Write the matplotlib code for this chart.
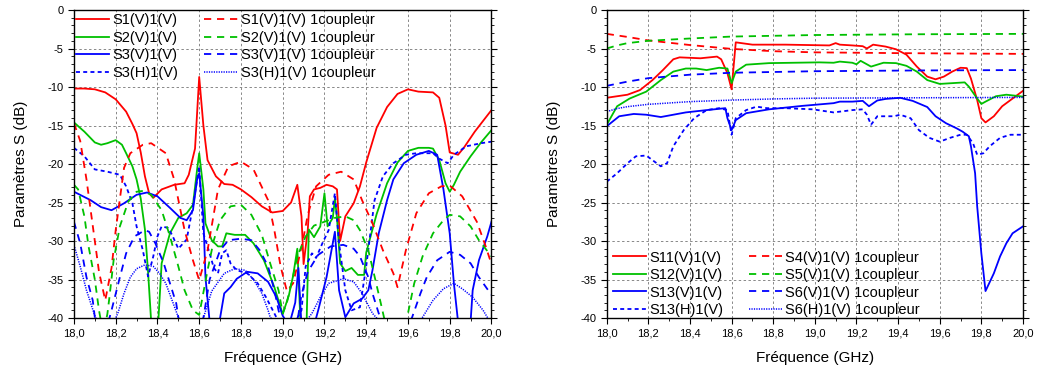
import numpy as np
import matplotlib
matplotlib.use("Agg")
import matplotlib.pyplot as plt
from matplotlib.ticker import MultipleLocator

plt.rcParams['font.family'] = ['Liberation Sans', 'DejaVu Sans']

RED = '#ff0000'
GREEN = '#00c000'
BLUE = '#0000ff'

# ---------------- left panel : 1 coupleur vs reference ----------------
s1_f = [18.0, 18.05, 18.1, 18.15, 18.2, 18.25, 18.28, 18.3, 18.32, 18.34, 18.36, 18.38, 18.42, 18.48,
        18.53, 18.55, 18.58, 18.6, 18.62, 18.64, 18.68, 18.72, 18.76, 18.8, 18.85, 18.9, 18.95, 19.0,
        19.04, 19.07, 19.09, 19.1, 19.12, 19.13, 19.15, 19.18, 19.21, 19.24, 19.26, 19.275, 19.3,
        19.34, 19.37, 19.4, 19.45, 19.5, 19.55, 19.6, 19.65, 19.72, 19.75, 19.78, 19.8, 19.84, 19.87,
        19.92, 20.0]
s1_db = [-10.2, -10.2, -10.3, -10.7, -11.6, -13.2, -14.8, -16.0, -18.5, -21.6, -23.8, -24.4, -23.3, -22.7,
         -22.5, -21.4, -18.0, -8.7, -15.0, -19.5, -21.6, -22.6, -22.7, -23.3, -24.3, -25.5, -26.3, -26.1,
         -25.0, -22.7, -26.8, -33.0, -28.6, -24.2, -23.3, -23.1, -22.7, -22.9, -23.3, -30.0, -26.8,
         -25.1, -22.9, -19.8, -15.3, -12.6, -10.9, -10.3, -10.6, -10.7, -11.4, -15.0, -18.5, -18.8, -17.8,
         -15.8, -13.0]

s2_f = [18.0, 18.05, 18.1, 18.13, 18.16, 18.2, 18.23, 18.25, 18.28, 18.3, 18.32, 18.34, 18.355, 18.37,
        18.385, 18.405, 18.42, 18.46, 18.5, 18.54, 18.57, 18.59, 18.6, 18.62, 18.63, 18.66, 18.69, 18.71,
        18.73, 18.77, 18.82, 18.86, 18.91, 18.96, 19.0, 19.03, 19.05, 19.07, 19.085, 19.1, 19.115, 19.125,
        19.15, 19.18, 19.2, 19.215, 19.24, 19.25, 19.26, 19.275, 19.3, 19.33, 19.36, 19.39, 19.4, 19.45,
        19.5, 19.55, 19.6, 19.65, 19.7, 19.72, 19.75, 19.78, 19.8, 19.82, 19.85, 19.9, 19.95, 20.0]
s2_db = [-14.6, -15.8, -17.2, -17.5, -17.3, -16.9, -17.5, -18.6, -20.3, -22.0, -24.5, -28.5, -34.0, -40.5,
         -44.0, -40.0, -32.9, -29.0, -27.0, -26.4, -25.3, -20.7, -18.6, -23.3, -27.7, -29.9, -30.7, -30.7,
         -29.0, -29.2, -29.2, -30.3, -32.5, -36.0, -39.5, -37.0, -34.5, -31.0, -40.5, -42.0, -40.0, -28.5,
         -29.5, -28.1, -23.8, -28.1, -27.0, -24.5, -27.0, -32.9, -33.9, -33.5, -34.4, -34.4, -31.5, -26.5,
         -22.5, -19.8, -18.3, -17.9, -17.9, -18.0, -19.5, -22.5, -23.6, -22.7, -21.0, -19.0, -17.2, -15.6]

s3v_f = [18.0, 18.08, 18.13, 18.18, 18.24, 18.3, 18.35, 18.4, 18.46, 18.51, 18.54, 18.57, 18.59, 18.6,
         18.62, 18.63, 18.65, 18.67, 18.7, 18.72, 18.75, 18.78, 18.83, 18.88, 18.93, 18.97, 19.0, 19.03,
         19.06, 19.075, 19.09, 19.13, 19.17, 19.21, 19.25, 19.27, 19.3, 19.34, 19.38, 19.41, 19.43, 19.46,
         19.5, 19.53, 19.58, 19.64, 19.7, 19.74, 19.77, 19.8, 19.82, 19.84, 19.87, 19.9, 19.91, 19.94,
         19.98, 20.0]
s3v_db = [-23.6, -24.7, -25.6, -26.0, -25.1, -24.0, -23.7, -24.2, -25.7, -27.0, -27.3, -26.0, -22.0, -21.2,
          -26.8, -34.7, -40.5, -43.0, -40.0, -36.8, -36.0, -34.9, -34.0, -34.2, -35.3, -37.3, -39.7, -41.0,
          -38.0, -33.5, -41.0, -43.0, -39.0, -34.7, -28.8, -36.4, -39.9, -38.1, -37.5, -36.4, -33.8, -29.0,
          -24.7, -22.0, -19.9, -18.8, -18.3, -18.8, -23.3, -29.0, -35.5, -40.5, -44.0, -40.5, -36.4, -32.5,
          -29.4, -27.5]

s3h_f = [18.0, 18.05, 18.1, 18.16, 18.22, 18.25, 18.28, 18.3, 18.33, 18.355, 18.38, 18.4, 18.42, 18.45,
         18.47, 18.5, 18.54, 18.57, 18.6, 18.62, 18.65, 18.67, 18.69, 18.71, 18.73, 18.75, 18.78, 18.83,
         18.88, 18.92, 18.96, 18.99, 19.04, 19.07, 19.09, 19.11, 19.14, 19.16, 19.19, 19.22, 19.25, 19.27,
         19.3, 19.33, 19.37, 19.4, 19.42, 19.44, 19.48, 19.53, 19.59, 19.64, 19.72, 19.75, 19.79, 19.82,
         19.88, 19.95, 20.0]
s3h_db = [-17.9, -19.0, -20.7, -21.0, -21.4, -22.9, -25.1, -28.1, -31.2, -34.6, -32.0, -29.4, -28.1, -28.3,
          -29.2, -31.0, -29.8, -25.5, -20.3, -29.0, -31.6, -33.5, -34.2, -31.6, -31.2, -32.9, -33.8, -34.2,
          -35.5, -37.3, -39.4, -41.0, -42.0, -40.0, -39.0, -33.3, -31.6, -32.2, -30.3, -28.6, -23.8, -30.3,
          -36.4, -39.0, -38.6, -33.3, -29.0, -24.7, -21.6, -19.9, -18.8, -18.6, -18.6, -19.3, -19.9, -18.8,
          -17.7, -17.3, -17.1]

c1_f = [18.0, 18.03, 18.06, 18.09, 18.12, 18.15, 18.18, 18.2, 18.24, 18.27, 18.33, 18.37, 18.44, 18.48,
        18.53, 18.57, 18.6, 18.64, 18.69, 18.74, 18.8, 18.86, 18.93, 18.96, 18.99, 19.02, 19.05, 19.08,
        19.1, 19.12, 19.16, 19.22, 19.28, 19.34, 19.38, 19.43, 19.48, 19.53, 19.55, 19.59, 19.64, 19.7,
        19.76, 19.8, 19.86, 19.93, 19.97, 20.0]
c1_db = [-14.7, -17.0, -22.0, -28.0, -34.0, -37.7, -33.5, -28.6, -20.5, -18.6, -17.5, -17.3, -18.6, -22.0,
         -28.6, -32.5, -35.1, -31.2, -23.3, -20.3, -19.7, -20.7, -24.7, -28.6, -33.3, -36.5, -35.5, -32.0,
         -29.5, -26.6, -22.9, -21.4, -21.0, -22.0, -24.7, -27.7, -31.2, -34.2, -36.0, -31.2, -26.4, -23.8,
         -22.9, -22.8, -24.2, -27.5, -30.5, -33.0]

c2_f = [18.0, 18.02, 18.05, 18.07, 18.1, 18.12, 18.14, 18.16, 18.17, 18.19, 18.22, 18.26, 18.3, 18.33,
        18.37, 18.42, 18.46, 18.5, 18.53, 18.57, 18.6, 18.64, 18.67, 18.7, 18.75, 18.8, 18.85, 18.9, 18.94,
        18.98, 19.0, 19.02, 19.05, 19.07, 19.11, 19.15, 19.2, 19.25, 19.3, 19.34, 19.37, 19.41, 19.44,
        19.47, 19.49, 19.55, 19.59, 19.6, 19.63, 19.67, 19.72, 19.77, 19.8, 19.85, 19.9, 19.94, 20.0]
c2_db = [-22.7, -23.3, -26.8, -30.7, -35.0, -39.0, -42.0, -39.5, -37.3, -32.5, -28.1, -24.9, -23.6, -23.5,
         -24.0, -26.0, -29.4, -33.3, -36.4, -39.0, -39.6, -33.8, -29.9, -27.3, -25.5, -25.3, -26.6, -29.2,
         -32.9, -36.4, -39.4, -38.0, -34.5, -32.0, -29.4, -28.0, -27.5, -27.0, -26.8, -27.3, -28.6, -31.2,
         -34.6, -38.1, -40.5, -44.0, -40.5, -39.4, -35.5, -32.0, -29.0, -27.3, -26.6, -26.8, -28.1, -29.9,
         -32.0]

c3v_f = [18.0, 18.03, 18.06, 18.09, 18.1, 18.14, 18.18, 18.22, 18.25, 18.29, 18.34, 18.36, 18.39, 18.43,
         18.46, 18.49, 18.5, 18.56, 18.62, 18.65, 18.7, 18.74, 18.8, 18.85, 18.89, 18.93, 18.96, 18.98,
         19.0, 19.04, 19.07, 19.09, 19.12, 19.17, 19.23, 19.29, 19.34, 19.37, 19.41, 19.43, 19.46, 19.5,
         19.56, 19.62, 19.66, 19.69, 19.74, 19.8, 19.85, 19.9, 19.94, 20.0]
c3v_db = [-27.5, -30.3, -34.7, -37.7, -39.9, -43.0, -39.0, -34.7, -31.6, -29.4, -28.6, -28.8, -30.3, -32.9,
          -35.5, -38.1, -39.9, -44.0, -40.0, -35.0, -31.2, -29.9, -29.7, -29.9, -31.2, -33.3, -36.4, -39.0,
          -41.0, -44.0, -40.5, -37.0, -34.0, -31.8, -30.7, -30.5, -31.0, -32.0, -34.7, -36.8, -39.4, -42.0,
          -44.0, -39.9, -36.8, -34.7, -32.5, -31.4, -31.8, -32.9, -34.7, -37.0]

c3h_f = [18.0, 18.03, 18.06, 18.1, 18.15, 18.21, 18.24, 18.27, 18.3, 18.34, 18.38, 18.41, 18.44, 18.47,
         18.5, 18.56, 18.62, 18.66, 18.72, 18.77, 18.82, 18.86, 18.9, 18.93, 18.94, 19.04, 19.14, 19.18,
         19.22, 19.29, 19.34, 19.38, 19.43, 19.55, 19.67, 19.72, 19.77, 19.82, 19.86, 19.91, 19.96, 19.98,
         20.0]
c3h_db = [-30.5, -33.3, -36.4, -39.7, -43.0, -39.4, -36.8, -34.7, -33.6, -33.1, -33.3, -34.2, -35.5, -37.7,
          -39.9, -43.0, -40.0, -36.5, -34.2, -33.6, -33.8, -35.0, -36.8, -39.0, -39.9, -43.0, -39.4, -37.3,
          -35.5, -34.9, -35.3, -36.8, -39.4, -43.0, -39.9, -37.7, -36.2, -35.5, -36.2, -37.3, -39.0, -39.9,
          -40.5]

# ---------------- right panel ----------------
s11_f = [18.0, 18.1, 18.16, 18.22, 18.27, 18.32, 18.35, 18.45, 18.53, 18.55, 18.58, 18.6, 18.62, 18.7,
         18.86, 19.07, 19.1, 19.12, 19.18, 19.23, 19.25, 19.28, 19.34, 19.39, 19.44, 19.49, 19.54, 19.58,
         19.62, 19.66, 19.7, 19.73, 19.75, 19.78, 19.8, 19.82, 19.86, 19.9, 19.95, 20.0]
s11_db = [-11.4, -11.0, -10.4, -9.1, -7.8, -6.4, -6.15, -6.27, -6.05, -6.4, -8.2, -10.3, -4.2, -4.5,
          -4.5, -4.6, -4.3, -4.5, -4.6, -4.7, -5.0, -4.5, -4.75, -5.1, -5.8, -7.35, -8.65, -9.0,
          -8.65, -8.0, -7.5, -7.55, -8.9, -11.7, -14.05, -14.6, -13.8, -12.5, -11.5, -10.5]

s12_f = [18.0, 18.05, 18.11, 18.19, 18.26, 18.32, 18.38, 18.43, 18.48, 18.54, 18.58, 18.6, 18.62, 18.67,
         18.78, 19.02, 19.09, 19.12, 19.18, 19.2, 19.22, 19.27, 19.33, 19.39, 19.44, 19.49, 19.54, 19.6,
         19.66, 19.72, 19.74, 19.78, 19.8, 19.82, 19.87, 19.92, 19.97, 20.0]
s12_db = [-14.9, -12.5, -11.5, -10.6, -9.1, -8.0, -7.6, -7.6, -7.8, -7.5, -7.6, -9.5, -8.0, -7.1,
          -6.9, -6.8, -6.85, -6.7, -6.85, -7.05, -6.6, -7.35, -6.85, -6.9, -7.25, -8.0, -9.1, -9.6,
          -9.5, -9.4, -9.95, -11.5, -12.2, -11.9, -11.2, -11.0, -11.15, -11.25]

s13v_f = [18.0, 18.06, 18.13, 18.19, 18.26, 18.32, 18.38, 18.48, 18.57, 18.58, 18.6, 18.62, 18.67, 18.78,
          18.94, 19.09, 19.12, 19.18, 19.23, 19.26, 19.3, 19.34, 19.41, 19.47, 19.54, 19.58, 19.63, 19.68,
          19.71, 19.74, 19.75, 19.77, 19.78, 19.8, 19.82, 19.86, 19.89, 19.92, 19.95, 20.0]
s13v_db = [-15.1, -13.8, -13.5, -13.6, -13.9, -13.6, -13.3, -13.0, -12.75, -14.05, -15.6, -14.3, -13.4, -12.9,
           -12.45, -12.1, -11.9, -11.9, -11.8, -12.5, -11.75, -11.55, -11.4, -11.8, -12.6, -13.8, -14.7, -15.35,
           -15.8, -16.4, -17.7, -21.2, -25.5, -31.6, -36.5, -34.2, -32.0, -30.3, -29.0, -28.1]

s13h_f = [18.0, 18.05, 18.1, 18.14, 18.19, 18.22, 18.26, 18.29, 18.32, 18.37, 18.42, 18.48, 18.54, 18.58,
          18.6, 18.62, 18.67, 18.72, 18.77, 18.86, 18.99, 19.09, 19.12, 19.18, 19.23, 19.25, 19.27, 19.3,
          19.38, 19.41, 19.46, 19.5, 19.55, 19.6, 19.65, 19.7, 19.73, 19.76, 19.78, 19.81, 19.84, 19.89,
          19.94, 20.0]
s13h_db = [-22.3, -21.2, -19.9, -19.0, -18.9, -19.5, -20.3, -19.9, -17.7, -15.6, -14.05, -13.0, -12.75, -13.0,
           -16.2, -14.05, -13.0, -12.55, -12.75, -12.75, -12.9, -13.3, -13.2, -13.0, -12.9, -13.6, -14.9, -13.8,
           -13.8, -13.6, -14.05, -15.6, -16.6, -17.1, -16.6, -16.2, -16.2, -17.3, -18.8, -18.6, -17.7, -16.6,
           -16.2, -16.2]

c4_f = [18.0, 18.1, 18.2, 18.3, 18.4, 18.6, 18.8, 19.0, 19.4, 20.0]
c4_db = [-3.1, -3.5, -3.95, -4.25, -4.55, -5.05, -5.35, -5.5, -5.6, -5.7]

c5_f = [18.0, 18.05, 18.1, 18.2, 18.4, 18.6, 19.0, 19.5, 20.0]
c5_db = [-5.0, -4.6, -4.3, -4.0, -3.7, -3.45, -3.25, -3.15, -3.1]

c6v_f = [18.0, 18.1, 18.2, 18.4, 18.6, 19.0, 19.5, 20.0]
c6v_db = [-9.85, -9.3, -8.85, -8.4, -8.15, -7.95, -7.85, -7.8]

c6h_f = [18.0, 18.05, 18.1, 18.2, 18.4, 18.6, 18.8, 19.0, 19.5, 20.0]
c6h_db = [-13.2, -12.8, -12.55, -12.25, -11.9, -11.7, -11.55, -11.45, -11.4, -11.35]

LW = 1.3
SOLID = dict(ls='-', lw=LW)
DASH = dict(ls=(0, (4.0, 3.2)), lw=LW)
SHORT = dict(ls=(0, (2.2, 1.8)), lw=LW)
DOT = dict(ls=(0, (0.8, 0.8)), lw=1.1)

left_series = [
    (s1_f, s1_db, RED, SOLID, 'S1(V)1(V)'),
    (s2_f, s2_db, GREEN, SOLID, 'S2(V)1(V)'),
    (s3v_f, s3v_db, BLUE, SOLID, 'S3(V)1(V)'),
    (s3h_f, s3h_db, BLUE, SHORT, 'S3(H)1(V)'),
    (c1_f, c1_db, RED, DASH, 'S1(V)1(V) 1coupleur'),
    (c2_f, c2_db, GREEN, DASH, 'S2(V)1(V) 1coupleur'),
    (c3v_f, c3v_db, BLUE, DASH, 'S3(V)1(V) 1coupleur'),
    (c3h_f, c3h_db, BLUE, DOT, 'S3(H)1(V) 1coupleur'),
]
right_series = [
    (s11_f, s11_db, RED, SOLID, 'S11(V)1(V)'),
    (s12_f, s12_db, GREEN, SOLID, 'S12(V)1(V)'),
    (s13v_f, s13v_db, BLUE, SOLID, 'S13(V)1(V)'),
    (s13h_f, s13h_db, BLUE, SHORT, 'S13(H)1(V)'),
    (c4_f, c4_db, RED, DASH, 'S4(V)1(V) 1coupleur'),
    (c5_f, c5_db, GREEN, DASH, 'S5(V)1(V) 1coupleur'),
    (c6v_f, c6v_db, BLUE, DASH, 'S6(V)1(V) 1coupleur'),
    (c6h_f, c6h_db, BLUE, DOT, 'S6(H)1(V) 1coupleur'),
]

fig = plt.figure(figsize=(10.43, 3.69), dpi=100)
ax1 = fig.add_axes([0.0709, 0.1382, 0.4003, 0.8347])
ax2 = fig.add_axes([0.5817, 0.1382, 0.3991, 0.8347])


def style_axis(ax):
    ax.set_xlim(18.0, 20.0)
    ax.set_ylim(-40, 0)
    xt = np.round(np.arange(18.0, 20.01, 0.2), 1)
    ax.set_xticks(xt)
    ax.set_xticklabels([f"{v:.1f}".replace('.', ',') for v in xt])
    yt = np.arange(-40, 1, 5)
    ax.set_yticks(yt)
    ax.set_yticklabels([str(v) for v in yt])
    ax.xaxis.set_minor_locator(MultipleLocator(0.1))
    ax.yaxis.set_minor_locator(MultipleLocator(1))
    ax.tick_params(which='both', direction='out', right=True, top=False, labelsize=8)
    ax.tick_params(which='major', length=4)
    ax.tick_params(which='minor', length=2.5)
    ax.grid(True, which='major', color='#888888', ls=(0, (2.5, 2.5)), lw=0.7)
    ax.set_axisbelow(True)
    for sp in ax.spines.values():
        sp.set_linewidth(1.0)
    ax.set_xlabel('Fréquence (GHz)', fontsize=11, labelpad=9)
    ax.set_ylabel('Paramètres S (dB)', fontsize=11, labelpad=14)


for ax, series in ((ax1, left_series), (ax2, right_series)):
    for f, db, c, st, lab in series:
        ax.plot(f, db, color=c, label=lab, **st)
    style_axis(ax)

ax1.legend(loc='upper left', bbox_to_anchor=(-0.02, 1.022), ncol=2, frameon=False, fontsize=10.5,
           handlelength=2.3, handletextpad=0.2, labelspacing=0.24, columnspacing=1.8, borderpad=0.2)
ax2.legend(loc='lower left', bbox_to_anchor=(-0.01, -0.03), ncol=2, frameon=False, fontsize=10.5,
           handlelength=2.3, handletextpad=0.2, labelspacing=0.24, columnspacing=1.75, borderpad=0.2)

fig.savefig('out.png', dpi=100)
